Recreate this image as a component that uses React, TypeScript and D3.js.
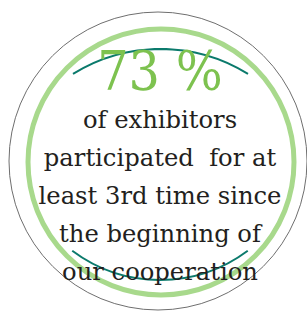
import React, { useRef, useEffect } from 'react';
import * as d3 from 'd3';

// values
const shareValues = [73];
const shareUnits = ['%'];
const captionLines = [
  'of exhibitors',
  'participated  for at',
  'least 3rd time since',
  'the beginning of',
  'our cooperation',
];

const W = 307;
const H = 311;
const SERIF = "'DejaVu Serif', serif";

const App = () => {
  const svgRef = useRef<SVGSVGElement>(null);

  useEffect(() => {
    const svg = d3.select(svgRef.current);
    svg.selectAll('*').remove();

    // outer thin grey ring
    svg.append('circle')
      .attr('cx', 158)
      .attr('cy', 161)
      .attr('r', 149)
      .attr('fill', 'none')
      .attr('stroke', '#6f6f6f')
      .attr('stroke-width', 1);

    // light green ring
    svg.append('circle')
      .attr('cx', 161)
      .attr('cy', 162)
      .attr('r', 133)
      .attr('fill', 'none')
      .attr('stroke', '#a8d98c')
      .attr('stroke-width', 5);

    // teal arcs top and bottom
    const deg = Math.PI / 180;
    const topArc = d3.arc<any>()
      .innerRadius(166)
      .outerRadius(166)
      .startAngle(-31.8 * deg)
      .endAngle(31.8 * deg);
    svg.append('path')
      .attr('transform', 'translate(160.5,215)')
      .attr('d', topArc({}) as string)
      .attr('fill', 'none')
      .attr('stroke', '#0b7a6c')
      .attr('stroke-width', 2);

    const bottomArc = d3.arc<any>()
      .innerRadius(146.5)
      .outerRadius(146.5)
      .startAngle(143.2 * deg)
      .endAngle(216.8 * deg);
    svg.append('path')
      .attr('transform', 'translate(160,133.5)')
      .attr('d', bottomArc({}) as string)
      .attr('fill', 'none')
      .attr('stroke', '#0b7a6c')
      .attr('stroke-width', 2);

    // big percentage
    svg.selectAll('.share')
      .data(shareValues)
      .join('text')
      .attr('class', 'share')
      .attr('transform', 'translate(160,90) scale(0.9,1)')
      .attr('text-anchor', 'middle')
      .attr('font-family', SERIF)
      .attr('font-size', 55)
      .attr('fill', '#7dc24f')
      .text((d, i) => `${d} ${shareUnits[i]}`);

    // caption lines
    const y = d3.scalePoint<string>()
      .domain(captionLines)
      .range([128, 280]);

    svg.selectAll('.caption')
      .data(captionLines)
      .join('text')
      .attr('class', 'caption')
      .attr('transform', d => `translate(160,${y(d)}) scale(1.01,1)`)
      .attr('text-anchor', 'middle')
      .attr('font-family', SERIF)
      .attr('font-size', 24)
      .attr('fill', '#231f20')
      .style('white-space', 'pre')
      .text(d => d);
  }, []);

  return (
    <svg
      ref={svgRef}
      width={W}
      height={H}
      style={{ position: 'absolute', left: 0, top: 0, background: '#fff' }}
    />
  );
};

export default App;
